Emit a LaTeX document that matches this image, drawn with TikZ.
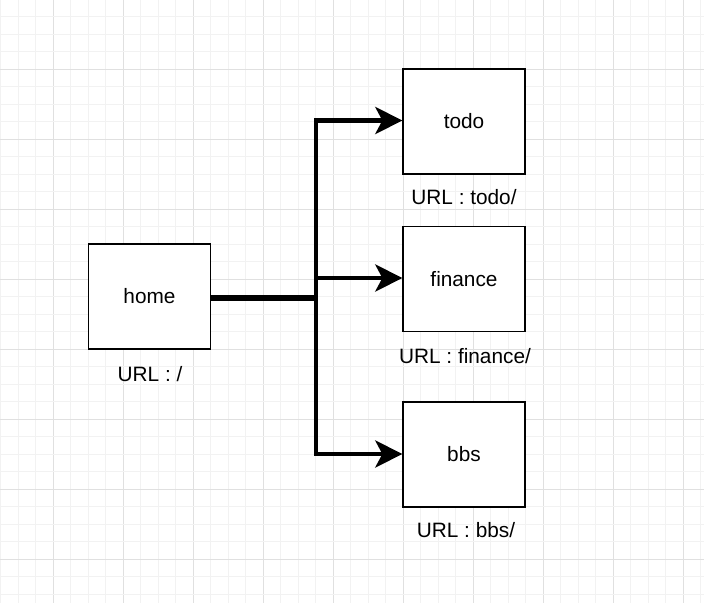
\documentclass[tikz,border=0pt]{standalone}
\usepackage{fontspec}
\setmainfont{Liberation Sans}
\usetikzlibrary{arrows.meta,positioning}
\definecolor{minorgrid}{RGB}{242,242,242}
\definecolor{majorgrid}{RGB}{224,224,224}
\begin{document}
\begin{tikzpicture}[x=1pt,y=-1pt]
		  \tikzstyle{every node}=[font=\fontsize{20.8pt}{24pt}\selectfont]
		  \tikzstyle{page}=[draw,line width=1.3pt,minimum width=122pt,minimum height=105pt,fill=white]
		  \tikzstyle{urltext}=[inner sep=0pt,text height=15pt,text depth=4pt]
		  \tikzstyle{branch}=[line width=4.8pt,-{Stealth[length=27pt,width=27pt,inset=7pt]}]
		  \useasboundingbox (0,0) rectangle (704,603);
		  \fill[white](0,0) rectangle (704,603);
		  % grid
		  \foreach \k in {0,...,40}{
		    \pgfmathtruncatemacro{\m}{mod(\k,4)}
		    \ifnum\m=3 \draw[majorgrid,line width=1pt](0.8+17.5*\k,0)--(0.8+17.5*\k,603);
		    \else \draw[minorgrid,line width=1pt](0.8+17.5*\k,0)--(0.8+17.5*\k,603); \fi
		  }
		  \foreach \k in {0,...,34}{
		    \pgfmathtruncatemacro{\m}{mod(\k,4)}
		    \ifnum\m=0 \draw[majorgrid,line width=1pt](0,-0.6+17.5*\k)--(704,-0.6+17.5*\k);
		    \else \draw[minorgrid,line width=1pt](0,-0.6+17.5*\k)--(704,-0.6+17.5*\k); \fi
		  }
		  % boxes
		  \node[page](home) at (149.5,296.5){home};
		  \node[page](todo) at (464,121.5){todo};
		  \node[page](finance) at (464,279){finance};
		  \node[page](bbs) at (464,454.5){bbs};
		  \node[urltext](homeurl) at (150,376){URL : /};
		  \node[urltext](todourl) at (464,199){URL : todo/};
		  \node[urltext](financeurl) at (465,358){URL : finance/};
		  \node[urltext](bbsurl) at (466,532){URL : bbs/};
		  % links
		  \coordinate (split) at (316,298);
		  \draw[line width=6pt](home.east|-split)--(split);
		  \draw[branch](split)|-([yshift=1pt]todo.west);
		  \draw[branch](split)|-([yshift=1pt]finance.west);
		  \draw[branch](split)|-([yshift=0.5pt]bbs.west);
		\end{tikzpicture}
\end{document}
